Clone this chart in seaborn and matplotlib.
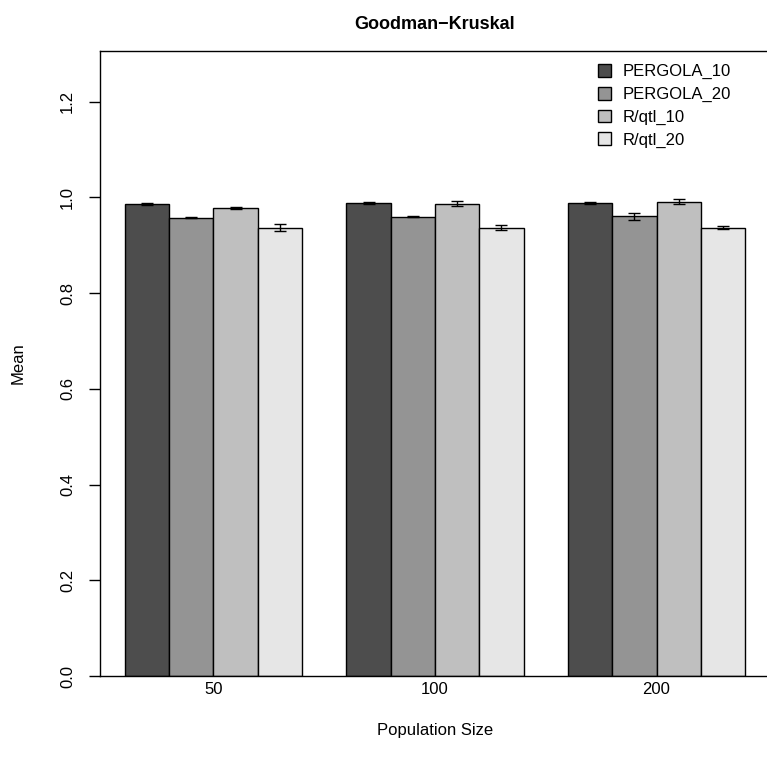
import numpy as np
import pandas as pd
import matplotlib
matplotlib.use("Agg")
import matplotlib.pyplot as plt
import seaborn as sns

# Mean Goodman-Kruskal score per population size and method
sizes = ["50", "100", "200"]
methods = ["PERGOLA_10", "PERGOLA_20", "R/qtl_10", "R/qtl_20"]
pergola_10 = [0.986, 0.989, 0.989]
pergola_20 = [0.958, 0.960, 0.961]
rqtl_10 = [0.978, 0.987, 0.991]
rqtl_20 = [0.937, 0.937, 0.937]
# standard errors
pergola_10_se = [0.002, 0.002, 0.002]
pergola_20_se = [0.0015, 0.0015, 0.0073]
rqtl_10_se = [0.0015, 0.005, 0.005]
rqtl_20_se = [0.007, 0.0045, 0.003]

colors = ["#4D4D4D", "#949494", "#BFBFBF", "#E6E6E6"]

means = [pergola_10, pergola_20, rqtl_10, rqtl_20]
errors = [pergola_10_se, pergola_20_se, rqtl_10_se, rqtl_20_se]

rows = []
for m, vals in zip(methods, means):
    for s, v in zip(sizes, vals):
        rows.append({"size": s, "method": m, "mean": v})
df = pd.DataFrame(rows)

sns.set_style("white")
plt.rcParams["font.family"] = ["Liberation Sans", "DejaVu Sans"]
plt.rcParams["text.color"] = "black"
plt.rcParams["axes.labelcolor"] = "black"
plt.rcParams["xtick.color"] = "black"
plt.rcParams["ytick.color"] = "black"

fig = plt.figure(figsize=(7.67, 7.70), dpi=100)
ax = fig.add_axes([100 / 767, (770 - 676) / 770, (770 - 100) / 767, (676 - 51) / 770])

sns.barplot(data=df, x="size", y="mean", hue="method", order=sizes,
            hue_order=methods, palette=colors, saturation=1, errorbar=None,
            edgecolor="black", linewidth=1.0, width=0.8, gap=0, ax=ax)

for cont, vals, errs in zip(ax.containers, means, errors):
    xs = [b.get_x() + b.get_width() / 2 for b in cont]
    ax.errorbar(xs, vals, yerr=errs, fmt="none", ecolor="black",
                elinewidth=1.0, capsize=4, capthick=1.0, zorder=5)

ax.set_xlim(-0.512, 2.512)
ax.set_ylim(0, 1.306)
ax.set_yticks([0.0, 0.2, 0.4, 0.6, 0.8, 1.0, 1.2])
ax.set_yticklabels(["0.0", "0.2", "0.4", "0.6", "0.8", "1.0", "1.2"],
                   rotation=90, va="center")
ax.tick_params(axis="y", direction="out", length=8, width=1, pad=10,
               labelsize=12, colors="black", left=True)
ax.tick_params(axis="x", length=0, pad=4, labelsize=12, colors="black")

for sp in ax.spines.values():
    sp.set_visible(True)
    sp.set_color("black")
    sp.set_linewidth(1.0)

ax.set_xlabel("Population Size", fontsize=12, labelpad=19, color="black")
ax.set_ylabel("Mean", fontsize=12, labelpad=25, color="black")
ax.set_title("Goodman\u2212Kruskal", fontsize=13, fontweight="bold", pad=16,
             color="black")

leg = ax.legend(loc="upper left", bbox_to_anchor=(598 / 767, (770 - 64) / 770),
                bbox_transform=fig.transFigure, frameon=False, fontsize=12,
                handlelength=0.8, handleheight=0.8, handletextpad=0.7,
                labelspacing=0.45, borderpad=0, borderaxespad=0)
for t in leg.get_texts():
    t.set_color("black")
for h in leg.legend_handles:
    h.set_edgecolor("black")
    h.set_linewidth(1.0)

fig.savefig("out.png", dpi=100)
